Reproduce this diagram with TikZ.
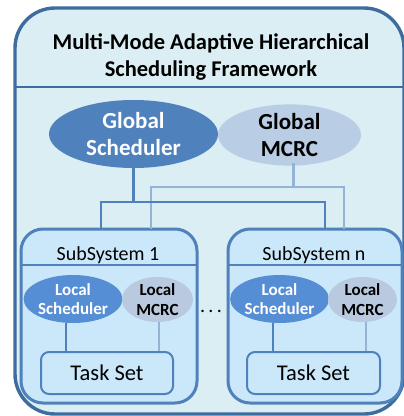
\documentclass[tikz,border=0pt]{standalone}
\usepackage{fontspec}
\setmainfont{Carlito}
\usetikzlibrary{shapes.geometric}
\definecolor{outerfill}{HTML}{DAEEF3}
\definecolor{outerdraw}{HTML}{3E6C9E}
\definecolor{subfill}{HTML}{CAE8FA}
\definecolor{subdraw}{HTML}{4F81BD}
\definecolor{gsched}{HTML}{4F81BD}
\definecolor{lsched}{HTML}{558ED5}
\definecolor{gmcrc}{HTML}{B9CDE5}
\definecolor{lmcrc}{HTML}{B9C9DF}
\definecolor{darkline}{HTML}{4F81BD}
\definecolor{lightline}{HTML}{95B3D7}
\tikzset{
  outerbox/.style={draw=outerdraw, fill=outerfill, line width=3.4pt, rounded corners=40pt},
  subbox/.style={draw=subdraw, fill=subfill, line width=3pt, rounded corners=22pt},
  taskbox/.style={draw=subdraw, fill=subfill, line width=2pt, rounded corners=8pt, minimum width=132pt, minimum height=42pt, inner sep=0pt, font=\fontsize{22.5}{26}\selectfont},
  gschednode/.style={ellipse, fill=gsched, text=white, inner sep=0pt, align=center, font=\bfseries\fontsize{23}{27}\selectfont},
  gmcrcnode/.style={ellipse, fill=gmcrc, text=black, inner sep=0pt, align=center, font=\bfseries\fontsize{23}{27}\selectfont},
  lschednode/.style={ellipse, fill=lsched, text=white, inner sep=0pt, align=center, font=\bfseries\fontsize{17}{19.5}\selectfont, minimum height=48pt},
  lmcrcnode/.style={ellipse, fill=lmcrc, text=black, inner sep=0pt, align=center, font=\bfseries\fontsize{17}{19.5}\selectfont, minimum height=45pt},
  dconn/.style={draw=darkline, line width=2.5pt},
  lconn/.style={draw=lightline, line width=2.5pt},
  dlocal/.style={draw=darkline, line width=2pt},
  llocal/.style={draw=lightline, line width=2pt},
  sepline/.style={line width=2.5pt},
}
\begin{document}
\begin{tikzpicture}[x=1pt,y=-1pt]
\useasboundingbox (0,0) rectangle (404,416);
% outer frame
\draw[outerbox] (15,8) rectangle (404,414);
\draw[outerdraw, sepline] (15,87) -- (404,87);
\node (title) at (211,57) [align=center, font=\bfseries\fontsize{22.5}{26.5}\selectfont] {Multi-Mode Adaptive Hierarchical\\Scheduling Framework};
% global nodes
\node (gs) at (133.5,134) [gschednode, minimum width=169pt, minimum height=68pt] {Global\\Scheduler};
\node (gm) at (289.5,135) [gmcrcnode, minimum width=143pt, minimum height=58pt] {Global\\MCRC};
% subsystems
\draw[subbox] (21,229) rectangle (197,403);
\draw[subdraw, sepline] (21,265) -- (197,265);
\draw[subbox] (228,229) rectangle (402,403);
\draw[subdraw, sepline] (228,265) -- (402,265);
\node (ss1) at (108,255) [font=\fontsize{20}{23}\selectfont] {SubSystem 1};
\node (ssn) at (314,255) [font=\fontsize{20}{23}\selectfont] {SubSystem n};
% connector junctions
\coordinate (j1) at (133.5,202);
\coordinate (a1) at (101,229);
\coordinate (an) at (325,229);
\coordinate (k1) at (293.5,187);
\coordinate (b1) at (151,229);
\coordinate (bn) at (344,229);
\coordinate (gmb) at (293.5,163);
\draw[lconn] (gmb) -- (k1);
\draw[lconn] (b1) |- (k1) -| (bn);
\draw[dconn] (gs.south) -- (j1);
\draw[dconn] (a1) |- (j1) -| (an);
% local nodes subsystem 1
\node (ls1) at (73,299) [lschednode, minimum width=92pt] {Local\\Scheduler};
\node (lm1) at (157.5,299.5) [lmcrcnode, minimum width=71pt] {Local\\MCRC};
\node (ts1) at (107,373) [taskbox] {Task Set};
% local nodes subsystem n
\node (lsn) at (279.5,299) [lschednode, minimum width=93pt] {Local\\Scheduler};
\node (lmn) at (362.5,299.5) [lmcrcnode, minimum width=69pt] {Local\\MCRC};
\node (tsn) at (313.5,373) [taskbox, minimum width=133pt] {Task Set};
% local connectors
\coordinate (c1) at (66,322.5);
\coordinate (d1) at (159,321.5);
\coordinate (cn) at (273,322.5);
\coordinate (dn) at (366,321.5);
\draw[dlocal] (c1) -- (c1 |- ts1.north);
\draw[llocal] (d1) -- (d1 |- ts1.north);
\draw[dlocal] (cn) -- (cn |- tsn.north);
\draw[llocal] (dn) -- (dn |- tsn.north);
% dots
\node (dots) at (211,311) [font=\fontsize{20}{23}\selectfont] {.\,.\,.};
\end{tikzpicture}
\end{document}
